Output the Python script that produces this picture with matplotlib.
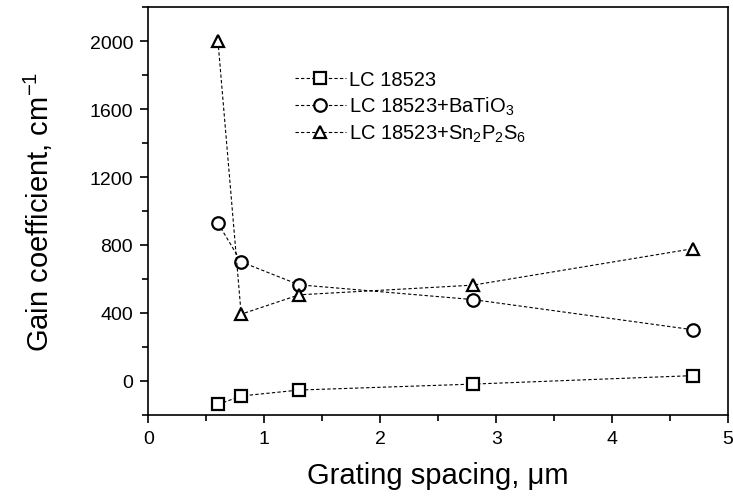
import matplotlib
matplotlib.use('Agg')
import matplotlib.pyplot as plt
from matplotlib.ticker import MultipleLocator

plt.rcParams['font.family'] = ['Liberation Sans', 'DejaVu Sans']
plt.rcParams['mathtext.default'] = 'regular'

# grating spacing, um
spacing = [0.6, 0.8, 1.3, 2.8, 4.7]

# gain coefficients, cm^-1
gain_lc = [-140, -90, -55, -20, 30]
gain_batio3 = [928, 700, 565, 478, 300]
gain_sn2p2s6 = [2000, 392, 506, 563, 778]

labels = ['LC 18523', 'LC 18523+BaTiO$_3$', 'LC 18523+Sn$_2$P$_2$S$_6$']

fig = plt.figure(figsize=(7.33, 5.02), dpi=100)
ax = fig.add_axes([0.2025, 0.172, 0.7907, 0.8115])

style = dict(color='black', linestyle=(0, (3, 2)), linewidth=0.8,
             markersize=9, markerfacecolor='white', markeredgecolor='black',
             markeredgewidth=1.6)
ax.plot(spacing, gain_lc, marker='s', label=labels[0], **style)
ax.plot(spacing, gain_batio3, marker='o', label=labels[1], **style)
ax.plot(spacing, gain_sn2p2s6, marker='^', label=labels[2], **style)

ax.set_xlim(0, 5)
ax.set_ylim(-200, 2200)
ax.xaxis.set_major_locator(MultipleLocator(1))
ax.xaxis.set_minor_locator(MultipleLocator(0.5))
ax.yaxis.set_major_locator(MultipleLocator(400))
ax.yaxis.set_minor_locator(MultipleLocator(200))
ax.set_yticks([0, 400, 800, 1200, 1600, 2000])

ax.tick_params(which='both', direction='out', top=False, right=False,
               width=1.2, labelsize=14, pad=5)
ax.tick_params(which='major', length=6)
ax.tick_params(which='minor', length=4.5)
for sp in ax.spines.values():
    sp.set_linewidth(1.2)

ax.set_xlabel('Grating spacing, μm', fontsize=21, labelpad=10)
ax.set_ylabel('Gain coefficient, cm$^{-1}$', fontsize=21, labelpad=25)

ax.legend(loc='upper left', bbox_to_anchor=(0.222, 0.89), frameon=False,
          fontsize=14.5, handlelength=2.5, numpoints=1, labelspacing=0.28,
          handletextpad=0.15, markerscale=1.0)

fig.savefig('out.png', dpi=100)
